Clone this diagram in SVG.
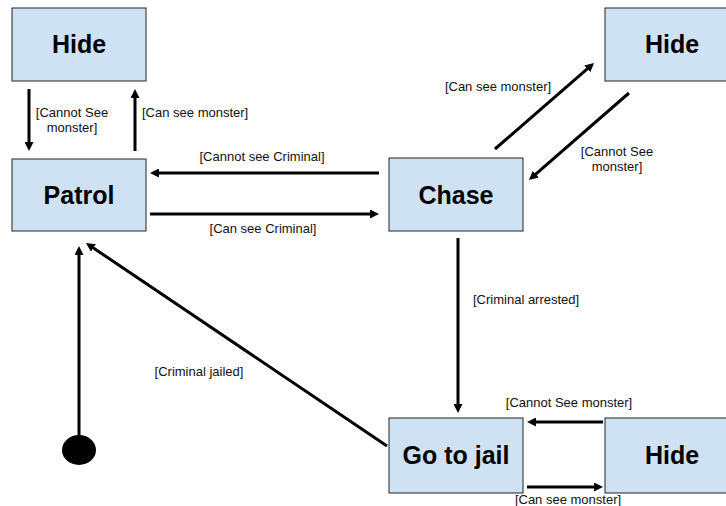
<svg xmlns="http://www.w3.org/2000/svg" width="726" height="506" viewBox="0 0 726 506">
<style>
.node rect{fill:#cfe2f3;stroke:#222;stroke-width:1}
.title{font-family:"Liberation Sans",Arial,sans-serif;font-weight:bold;font-size:25px;fill:#000;text-anchor:middle}
.lbl{font-family:"Liberation Sans",Arial,sans-serif;font-size:13px;fill:#111}
.mid{text-anchor:middle}
.edges line{stroke:#000;stroke-width:3;marker-end:url(#ah)}
</style>
<defs>
<marker id="ah" viewBox="0 0 10 10" refX="5.5" refY="5" markerWidth="9" markerHeight="9" markerUnits="userSpaceOnUse" orient="auto">
<path d="M0,0 L10,5 L0,10 z" fill="#000"/>
</marker>
</defs>
<rect width="726" height="506" fill="#fff"/>
<g id="hide1" class="node"><rect x="12" y="8" width="134" height="73"/><text class="title" x="79" y="53">Hide</text></g>
<g id="patrol" class="node"><rect x="12" y="159" width="134" height="72"/><text class="title" x="79" y="204">Patrol</text></g>
<g id="chase" class="node"><rect x="389" y="158" width="134" height="73"/><text class="title" x="456" y="204">Chase</text></g>
<g id="hide2" class="node"><rect x="605" y="8" width="134" height="73"/><text class="title" x="672" y="53">Hide</text></g>
<g id="jail" class="node"><rect x="389" y="418" width="134" height="75"/><text class="title" x="456" y="464">Go to jail</text></g>
<g id="hide3" class="node"><rect x="605" y="418" width="134" height="75"/><text class="title" x="672" y="464">Hide</text></g>
<g id="start"><ellipse cx="79" cy="450" rx="17" ry="15" fill="#000"/></g>
<g class="edges">
<line x1="29" y1="89" x2="29" y2="147"/>
<line x1="135" y1="151" x2="135" y2="93"/>
<line x1="379" y1="173" x2="154" y2="173"/>
<line x1="150" y1="214" x2="375" y2="214"/>
<line x1="495" y1="149" x2="591" y2="65.6"/>
<line x1="629" y1="93" x2="532" y2="177.4"/>
<line x1="458" y1="238" x2="458" y2="409"/>
<line x1="603" y1="422" x2="531" y2="422"/>
<line x1="527" y1="487" x2="599" y2="487"/>
<line x1="387" y1="446" x2="89.3" y2="245.2"/>
<line x1="79" y1="435" x2="79" y2="250"/>
</g>
<g id="labels">
<text class="lbl mid" x="72" y="117">[Cannot See</text>
<text class="lbl mid" x="72" y="132">monster]</text>
<text class="lbl" x="142" y="117">[Can see monster]</text>
<text class="lbl mid" x="262" y="161">[Cannot see Criminal]</text>
<text class="lbl mid" x="263" y="233">[Can see Criminal]</text>
<text class="lbl mid" x="498" y="91">[Can see monster]</text>
<text class="lbl mid" x="617" y="156">[Cannot See</text>
<text class="lbl mid" x="617" y="171">monster]</text>
<text class="lbl" x="473" y="304">[Criminal arrested]</text>
<text class="lbl mid" x="569" y="407">[Cannot See monster]</text>
<text class="lbl mid" x="568" y="504">[Can see monster]</text>
<text class="lbl mid" x="199" y="376">[Criminal jailed]</text>
</g>
</svg>
